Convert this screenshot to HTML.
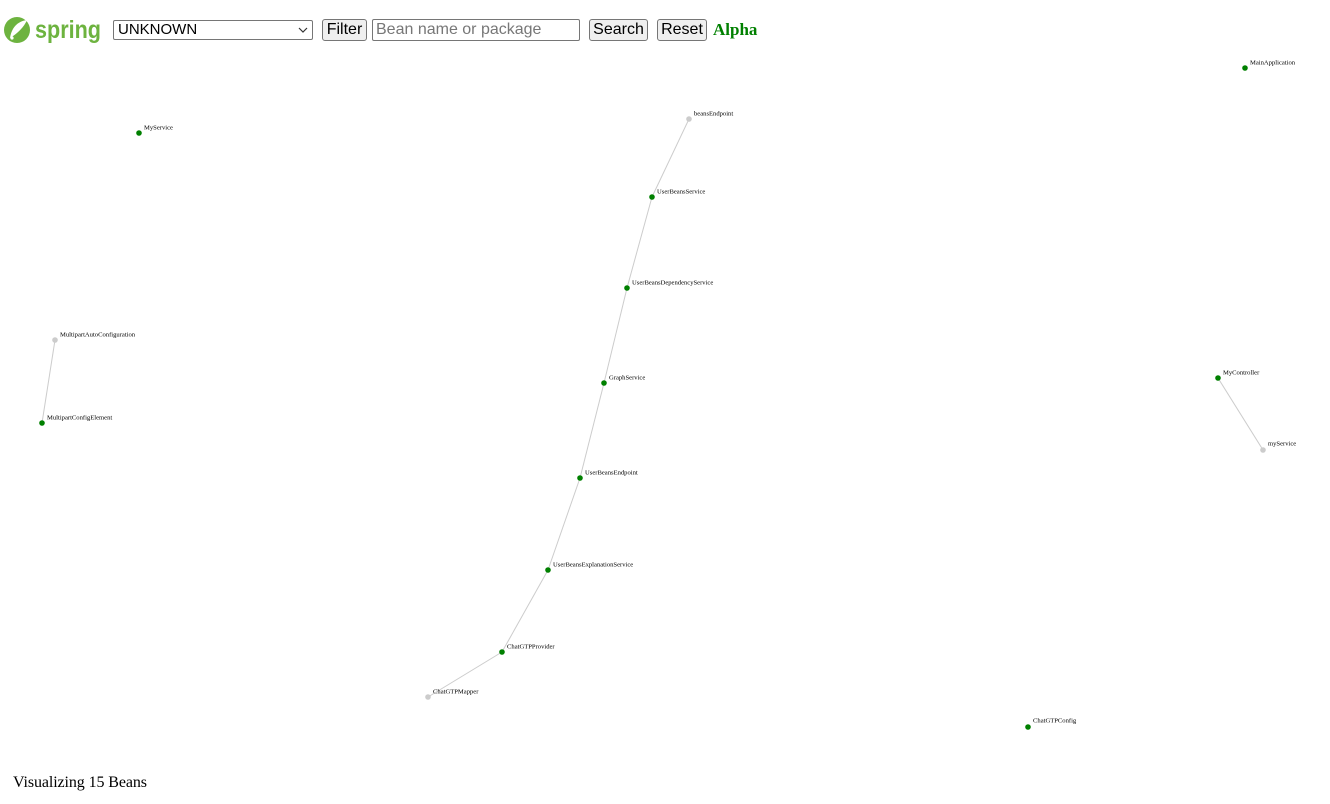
<!DOCTYPE html>
<html><head><meta charset="utf-8"><style>
body{margin:0;width:1330px;height:804px;background:#fff;position:relative;overflow:hidden;font-family:"Liberation Sans",sans-serif}
.abs{position:absolute;box-sizing:border-box}
.btn{background:#efefef;border:1px solid #767676;border-radius:3px;font-size:16px;color:#000;text-align:center;line-height:20px}
</style></head><body>
<svg class="abs" style="left:2px;top:13px" width="104" height="34" viewBox="0 0 104 34">
<circle cx="15" cy="17" r="13" fill="#6db33f"/>
<path d="M8 25 C10 12 18 8 25 7 C22 14 16 20 8 25Z" fill="#fff"/>
<circle cx="10" cy="25" r="1.6" fill="#fff"/>
<text x="33" y="25" font-family="Liberation Sans,sans-serif" font-size="25" font-weight="bold" fill="#6db33f" textLength="66" lengthAdjust="spacingAndGlyphs">spring</text>
</svg>
<div class="abs" style="left:113px;top:20px;width:200px;height:20px;border:1px solid #767676;border-radius:2px;font-size:15px;line-height:18px;padding-left:4px">UNKNOWN
<svg style="position:absolute;right:4px;top:6px" width="10" height="6"><path d="M1 1L5 5L9 1" fill="none" stroke="#333" stroke-width="1.2"/></svg></div>
<div class="abs btn" style="left:322px;top:19px;width:45px;height:22px">Filter</div>
<div class="abs" style="left:372px;top:19px;width:208px;height:22px;border:1px solid #767676;border-radius:2px;font-size:16px;line-height:20px;padding-left:3px;color:#777">Bean name or package</div>
<div class="abs btn" style="left:589px;top:19px;width:59px;height:22px">Search</div>
<div class="abs btn" style="left:657px;top:19px;width:50px;height:22px">Reset</div>
<div class="abs" style="left:713px;top:19px;font-family:'Liberation Serif',serif;font-weight:bold;font-size:17px;color:#008000;line-height:22px">Alpha</div>
<svg class="abs" style="left:0;top:0" width="1330" height="804" font-family="Liberation Serif,serif" font-size="6.6">
<g stroke="#ccc" stroke-width="1">
<line x1="689" y1="119" x2="652" y2="197"/><line x1="652" y1="197" x2="627" y2="288"/><line x1="627" y1="288" x2="604" y2="383"/><line x1="604" y1="383" x2="580" y2="478"/><line x1="580" y1="478" x2="548" y2="570"/><line x1="548" y1="570" x2="502" y2="652"/><line x1="502" y1="652" x2="428" y2="697"/><line x1="55" y1="340" x2="42" y2="423"/><line x1="1218" y1="378" x2="1263" y2="450"/>
</g>
<g>
<circle cx="1245" cy="68" r="2.8" fill="green"/><text x="1250" y="64.5">MainApplication</text>
<circle cx="139" cy="133" r="2.8" fill="green"/><text x="144" y="129.5">MyService</text>
<circle cx="689" cy="119" r="2.8" fill="#ccc"/><text x="694" y="115.5">beansEndpoint</text>
<circle cx="652" cy="197" r="2.8" fill="green"/><text x="657" y="193.5">UserBeansService</text>
<circle cx="627" cy="288" r="2.8" fill="green"/><text x="632" y="284.5">UserBeansDependencyService</text>
<circle cx="604" cy="383" r="2.8" fill="green"/><text x="609" y="379.5">GraphService</text>
<circle cx="580" cy="478" r="2.8" fill="green"/><text x="585" y="474.5">UserBeansEndpoint</text>
<circle cx="548" cy="570" r="2.8" fill="green"/><text x="553" y="566.5">UserBeansExplanationService</text>
<circle cx="502" cy="652" r="2.8" fill="green"/><text x="507" y="648.5">ChatGTPProvider</text>
<circle cx="428" cy="697" r="2.8" fill="#ccc"/><text x="433" y="693.5">ChatGTPMapper</text>
<circle cx="55" cy="340" r="2.8" fill="#ccc"/><text x="60" y="336.5">MultipartAutoConfiguration</text>
<circle cx="42" cy="423" r="2.8" fill="green"/><text x="47" y="419.5">MultipartConfigElement</text>
<circle cx="1218" cy="378" r="2.8" fill="green"/><text x="1223" y="374.5">MyController</text>
<circle cx="1263" cy="450" r="2.8" fill="#ccc"/><text x="1268" y="445.5">myService</text>
<circle cx="1028" cy="727" r="2.8" fill="green"/><text x="1033" y="722.5">ChatGTPConfig</text>
</g>
</svg>
<div class="abs" style="left:13px;top:773px;font-family:'Liberation Serif',serif;font-size:16px;line-height:20px;letter-spacing:-0.1px">Visualizing 15 Beans</div>
</body></html>
